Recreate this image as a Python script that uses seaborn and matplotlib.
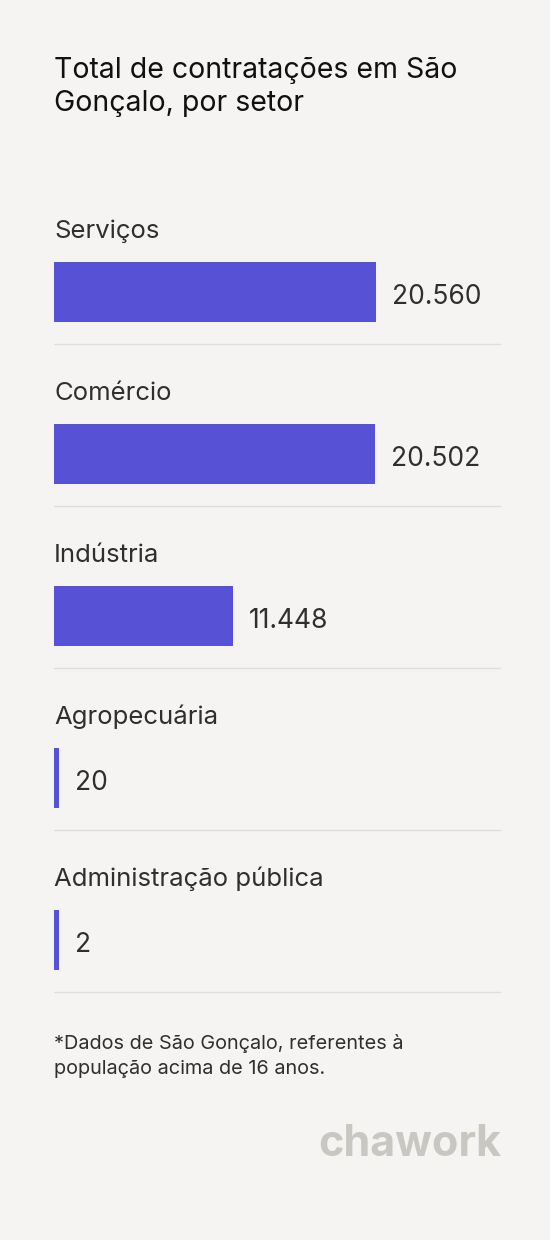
import matplotlib
matplotlib.use("Agg")
import matplotlib.pyplot as plt
import seaborn as sns
import pandas as pd

setores = ["Serviços", "Comércio", "Indústria", "Agropecuária", "Administração pública"]
valores = [20560, 20502, 11448, 20, 2]
rotulos = ["20.560", "20.502", "11.448", "20", "2"]

sns.set_style("white")
plt.rcParams['font.family'] = ['Inter', 'DejaVu Sans']

W, H = 550, 1240
bg = "#f5f4f2"
cor = "#5751d6"
txt = "#2f2f2f"

fig = plt.figure(figsize=(W / 100, H / 100), dpi=100, facecolor=bg)
# eixo em pixels: x 54..501
ax = fig.add_axes([54 / W, 0, (501 - 54) / W, 1])
ax.set_facecolor(bg)
xmax = 20560 * (501 - 54) / (376 - 54)
ax.set_xlim(0, xmax)
ax.set_ylim(H, 0)
ax.axis("off")

passo = 162
y0 = 292
df = pd.DataFrame({"setor": setores, "valor": valores})
df["y"] = [y0 + passo * i for i in range(len(df))]
df["larg"] = df["valor"].clip(lower=xmax * 5 / 447)  # largura mínima visível

for _, r in df.iterrows():
    ax.barh(r["y"], r["larg"], height=60, color=cor, left=0, linewidth=0)

for i, r in df.iterrows():
    ax.text(0, r["y"] - 61, r["setor"], fontsize=18.5, color=txt, va="center")
    ax.text(r["larg"] + xmax * 16 / 447, r["y"] + 5, rotulos[i], fontsize=19,
            color=txt, va="center")
    ax.axhline(r["y"] + 52, color="#e0dedb", lw=1)

fig.text(54 / W, 1 - 87 / H, "Total de contratações em São\nGonçalo, por setor",
         fontsize=20.5, color="#111", va="center", linespacing=1.25)
fig.text(54 / W, 1 - 1056 / H,
         "*Dados de São Gonçalo, referentes à\npopulação acima de 16 anos.",
         fontsize=14.3, color=txt, va="center", linespacing=1.5)
fig.text(501 / W, 1 - 1145 / H, "chawork", fontsize=31, fontweight="bold",
         color="#c9c7c1", ha="right", va="center")

fig.savefig("out.png", dpi=100, facecolor=bg)
